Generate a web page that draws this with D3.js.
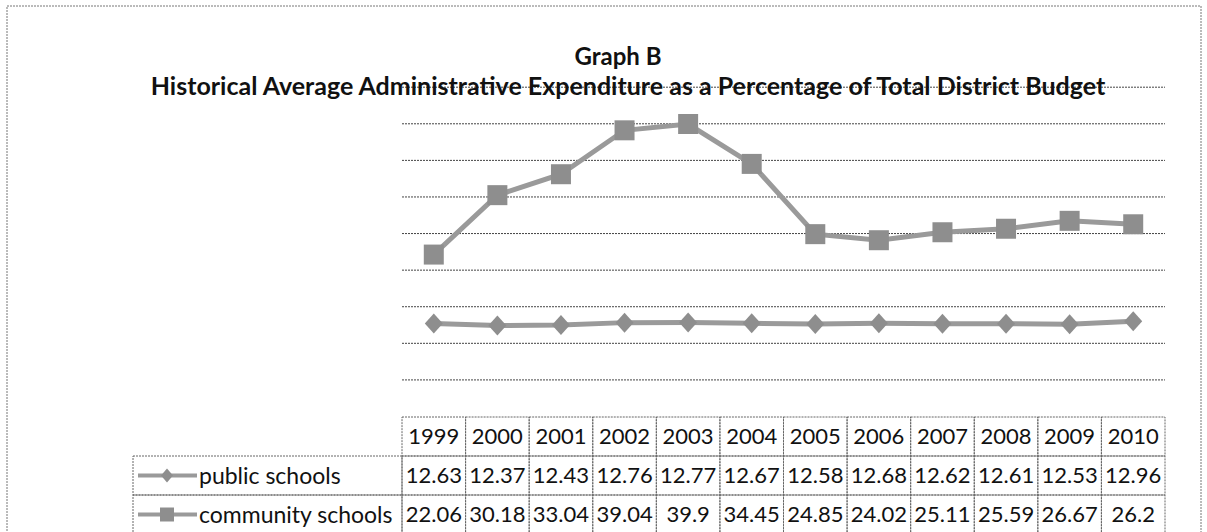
<!DOCTYPE html>
<html>
<head>
<meta charset="utf-8">
<script src="https://cdn.jsdelivr.net/npm/d3@7"></script>
<style>
  body { margin: 0; background: #fff; }
  text { font-family: Lato, "Open Sans", sans-serif; fill: #111; }
</style>
</head>
<body>
<script>
// data
var jaren = ["1999", "2000", "2001", "2002", "2003", "2004", "2005", "2006", "2007", "2008", "2009", "2010"];
var publicSchools = [12.63, 12.37, 12.43, 12.76, 12.77, 12.67, 12.58, 12.68, 12.62, 12.61, 12.53, 12.96];
var communitySchools = [22.06, 30.18, 33.04, 39.04, 39.9, 34.45, 24.85, 24.02, 25.11, 25.59, 26.67, 26.2];
var reeksNamen = ["public schools", "community schools"];
var gridWaarden = [5, 10, 15, 20, 25, 30, 35, 40, 45];

var breedte = 1207, hoogte = 532;
var marge = { links: 402, rechts: 1165, boven: 86.7, onder: 416 };

var svg = d3.select("body").append("svg")
    .attr("width", breedte)
    .attr("height", hoogte);

// rand rond de grafiek
svg.append("rect")
    .attr("x", 7).attr("y", 6)
    .attr("width", 1194).attr("height", 540)
    .attr("fill", "none")
    .attr("stroke", "#777")
    .attr("stroke-dasharray", "2,1");

var x = d3.scaleBand().domain(jaren).range([marge.links, marge.rechts]);
var y = d3.scaleLinear().domain([0, 45]).range([marge.onder, marge.boven]);
var midden = function(j) { return x(j) + x.bandwidth() / 2; };

// rasterlijnen
svg.append("g")
    .attr("transform", "translate(" + marge.links + ",0)")
    .call(d3.axisLeft(y).tickValues(gridWaarden).tickSize(-(marge.rechts - marge.links)).tickFormat(""))
    .call(function(g) { g.select(".domain").remove(); })
    .selectAll("line")
    .attr("stroke", "#444")
    .attr("stroke-dasharray", "2,1");

// titels
svg.append("text")
    .attr("x", 618).attr("y", 65)
    .attr("text-anchor", "middle")
    .attr("font-size", "24px").attr("font-weight", "bold")
    .text("Graph B");
svg.append("text")
    .attr("x", 628).attr("y", 95)
    .attr("text-anchor", "middle")
    .attr("font-size", "25px").attr("font-weight", "bold")
    .text("Historical Average Administrative Expenditure as a Percentage of Total District Budget");

var lijn = d3.line()
    .x(function(d, i) { return midden(jaren[i]); })
    .y(function(d) { return y(d); });

var grijs = "#9a9a9a";

// lijnen
svg.append("path").datum(communitySchools)
    .attr("d", lijn).attr("fill", "none")
    .attr("stroke", grijs).attr("stroke-width", 5);
svg.append("path").datum(publicSchools)
    .attr("d", lijn).attr("fill", "none")
    .attr("stroke", grijs).attr("stroke-width", 5);

var vierkant = d3.symbol().type(d3.symbolSquare).size(400);
var ruit = function(w, h) {
  return "M0," + (-h / 2) + "L" + (w / 2) + ",0L0," + (h / 2) + "L" + (-w / 2) + ",0Z";
};

svg.selectAll(".vierkant").data(communitySchools).enter().append("path")
    .attr("class", "vierkant")
    .attr("d", vierkant)
    .attr("transform", function(d, i) { return "translate(" + midden(jaren[i]) + "," + y(d) + ")"; })
    .attr("fill", "#8e8e8e");

svg.selectAll(".ruit").data(publicSchools).enter().append("path")
    .attr("class", "ruit")
    .attr("d", ruit(18, 20))
    .attr("transform", function(d, i) { return "translate(" + midden(jaren[i]) + "," + y(d) + ")"; })
    .attr("fill", "#8e8e8e");

// datatabel
var rijHoogte = 39;
var tabelTop = marge.onder + 1;
var legendaLinks = 133;
var tabel = svg.append("g");
var randStijl = function(sel) {
  sel.attr("fill", "none").attr("stroke", "#666").attr("stroke-dasharray", "2,1");
};

// kopregel met jaren
tabel.selectAll(".kop").data(jaren).enter().append("rect")
    .attr("x", function(d) { return x(d); })
    .attr("y", tabelTop)
    .attr("width", x.bandwidth()).attr("height", rijHoogte)
    .call(randStijl);
tabel.selectAll(".kopTekst").data(jaren).enter().append("text")
    .attr("x", midden).attr("y", tabelTop + rijHoogte / 2)
    .attr("dy", "0.35em").attr("text-anchor", "middle")
    .attr("font-size", "22px")
    .text(function(d) { return d; });

var reeksen = [publicSchools, communitySchools];
reeksen.forEach(function(waarden, r) {
  var rijY = tabelTop + rijHoogte * (r + 1);
  tabel.append("rect")
      .attr("x", legendaLinks).attr("y", rijY)
      .attr("width", marge.links - legendaLinks).attr("height", rijHoogte)
      .call(randStijl);
  tabel.selectAll(".cel" + r).data(jaren).enter().append("rect")
      .attr("x", function(d) { return x(d); })
      .attr("y", rijY)
      .attr("width", x.bandwidth()).attr("height", rijHoogte)
      .call(randStijl);
  tabel.selectAll(".waarde" + r).data(waarden).enter().append("text")
      .attr("x", function(d, i) { return midden(jaren[i]); })
      .attr("y", rijY + rijHoogte / 2)
      .attr("dy", "0.35em").attr("text-anchor", "middle")
      .attr("font-size", "22px")
      .text(function(d) { return d; });

  // legenda symbool
  var sy = rijY + rijHoogte / 2;
  tabel.append("line")
      .attr("x1", 138).attr("x2", 197).attr("y1", sy).attr("y2", sy)
      .attr("stroke", grijs).attr("stroke-width", 4);
  tabel.append("path")
      .attr("d", r === 0 ? ruit(12, 14) : d3.symbol().type(d3.symbolSquare).size(196)())
      .attr("transform", "translate(167," + sy + ")")
      .attr("fill", "#8e8e8e");
  tabel.append("text")
      .attr("x", 199).attr("y", sy)
      .attr("dy", "0.35em")
      .attr("font-size", "23px")
      .text(reeksNamen[r]);
});
</script>
</body>
</html>
